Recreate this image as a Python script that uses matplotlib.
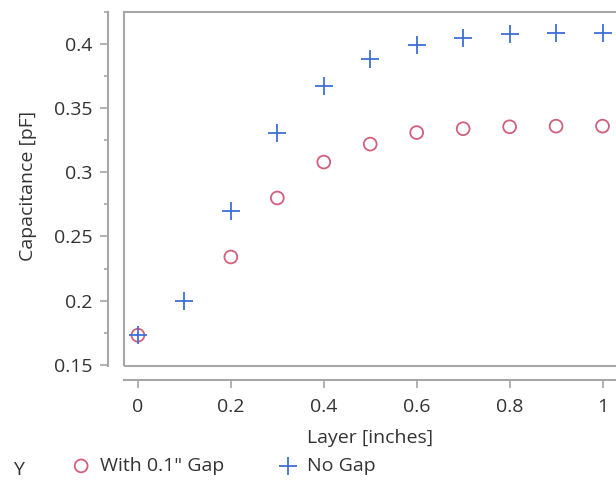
import matplotlib.pyplot as plt
from matplotlib.patches import Rectangle

# layer thickness in inches
layer = [0, 0.1, 0.2, 0.3, 0.4, 0.5, 0.6, 0.7, 0.8, 0.9, 1.0]
# capacitance (pF), no gap
no_gap = [0.173, 0.200, 0.270, 0.331, 0.367, 0.388, 0.399, 0.405, 0.408, 0.409, 0.409]
# capacitance (pF), with 0.1" gap (no point at 0.1)
gap_layer = [0, 0.2, 0.3, 0.4, 0.5, 0.6, 0.7, 0.8, 0.9, 1.0]
with_gap = [0.173, 0.234, 0.280, 0.308, 0.322, 0.331, 0.334, 0.3355, 0.336, 0.336]

plt.rcParams['font.family'] = ['Open Sans', 'DejaVu Sans']
grey = '#a6a6a6'
txt = '#333333'
blue = '#3d6fd6'
red = '#d0607c'
fs = 14

fig = plt.figure(figsize=(6.16, 4.83), dpi=100)
ax = fig.add_axes([124/616, 117/483, 1 - 124/616, 354/483])

ax.scatter(gap_layer, with_gap, s=85, facecolors='none', edgecolors=red,
           linewidths=1.3, label='With 0.1" Gap', zorder=3)
ax.scatter(layer, no_gap, s=165, marker='+', color=blue,
           linewidths=1.3, label='No Gap', zorder=4)

ax.set_xlim(-0.030, 1.029)
ax.set_ylim(0.149, 0.425)
ax.set_xticks([0, 0.2, 0.4, 0.6, 0.8, 1])
ax.set_xticklabels(['0', '0.2', '0.4', '0.6', '0.8', '1'])
ax.set_yticks([0.15, 0.2, 0.25, 0.3, 0.35, 0.4])
ax.set_yticklabels(['0.15', '0.2', '0.25', '0.3', '0.35', '0.4'])
ax.set_yticks([0.175, 0.225, 0.275, 0.325, 0.375, 0.425], minor=True)

# inner frame
ax.add_patch(Rectangle((0, 0), 1.2, 1, transform=ax.transAxes, fill=False,
                       edgecolor=grey, linewidth=1.5, clip_on=False, zorder=1))
ax.spines['top'].set_visible(False)
ax.spines['right'].set_visible(False)
ax.spines['left'].set_position(('outward', 11.5))
ax.spines['bottom'].set_position(('outward', 10))
for s in ('left', 'bottom'):
    ax.spines[s].set_color(grey)
    ax.spines[s].set_linewidth(1.5)

ax.tick_params(which='major', length=6, width=1.2, color=grey,
               labelsize=fs, labelcolor=txt)
ax.tick_params(axis='y', which='major', pad=5)
ax.tick_params(axis='x', which='major', pad=7)
ax.tick_params(which='minor', length=3, width=1.2, color=grey)

ax.set_xlabel('Layer [inches]', fontsize=fs, color=txt)
ax.set_ylabel('Capacitance [pF]', fontsize=fs, color=txt)
ax.xaxis.set_label_coords((370 - 124) / 492, -0.178)
ax.yaxis.set_label_coords(-(124 - 37) / 492, (483 - 186 - 117) / 354)

fig.text(13/616, 13/483, 'Y', fontsize=fs, color=txt, va='center')
fig.legend(loc='center left', bbox_to_anchor=(52/616, 17/483), ncol=2,
           frameon=False, fontsize=fs, labelcolor=txt, handletextpad=0.35,
           columnspacing=2.7, handlelength=1.2)

fig.savefig('out.png', dpi=100)
